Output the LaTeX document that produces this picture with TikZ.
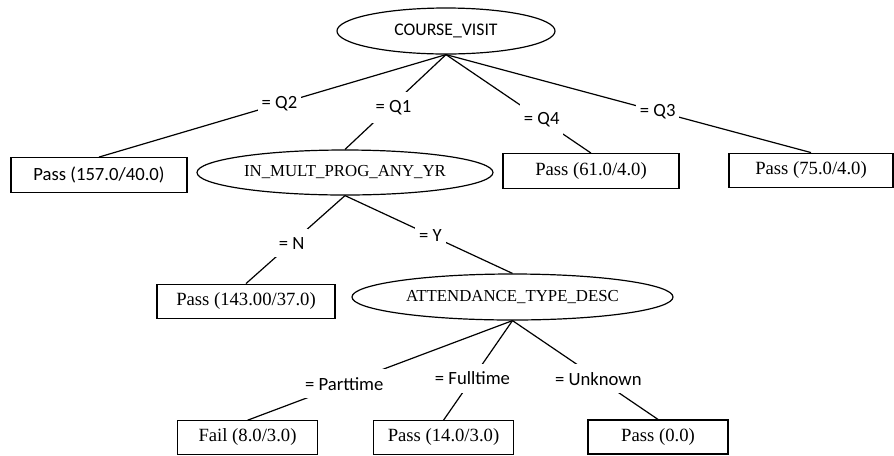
\documentclass[tikz,border=0pt]{standalone}
\usepackage{fontspec}
\setmainfont{Liberation Serif}
\newfontfamily\calibri{Carlito}
\usetikzlibrary{shapes.geometric}

\tikzset{
  attr/.style={draw, ellipse, inner sep=0pt, line width=0.9pt, font=\fontsize{12.6}{15}\selectfont},
  leaf/.style={draw, rectangle, inner sep=0pt, line width=0.9pt, minimum height=26pt, font=\fontsize{14}{16}\selectfont},
  cond/.style={fill=white, inner xsep=3pt, inner ysep=6pt, font=\calibri\fontsize{14}{16}\selectfont},
  branch/.style={line width=0.9pt},
}

\begin{document}
\begin{tikzpicture}[x=0.75pt, y=-0.75pt]
  \useasboundingbox (0,0) rectangle (894,455);

  %% attribute tests (ellipses)
  \node[attr, minimum width=163.5pt, minimum height=34.5pt, font=\calibri\fontsize{13.3}{15}\selectfont] (visit) at (446,31) {COURSE\_VISIT};
  \node[attr, minimum width=222pt, minimum height=33.75pt] (multprog) at (345,172.5) {IN\_MULT\_PROG\_ANY\_YR};
  \node[attr, minimum width=240.75pt, minimum height=34.5pt] (attend) at (512.5,297) {ATTENDANCE\_TYPE\_DESC};

  %% leaves (boxes)
  \node[leaf, minimum width=132pt, font=\calibri\fontsize{14}{16}\selectfont] (q2pass) at (99,175) {Pass (157.0/40.0)};
  \node[leaf, minimum width=132pt] (q4pass) at (591,171) {Pass (61.0/4.0)};
  \node[leaf, minimum width=123pt] (q3pass) at (811,170.5) {Pass (75.0/4.0)};
  \node[leaf, minimum width=133.5pt] (npass) at (246,301.5) {Pass (143.00/37.0)};
  \node[leaf, minimum width=104.5pt, minimum height=25pt] (partfail) at (247.5,437.5) {Fail (8.0/3.0)};
  \node[leaf, minimum width=104.5pt, minimum height=25pt] (fullpass) at (443.5,437.5) {Pass (14.0/3.0)};
  \node[leaf, minimum width=105pt, minimum height=25.5pt] (unkpass) at (658,437) {Pass (0.0)};

  %% branches, label sits on the line and hides it
  \draw[branch] (visit.south) -- node[cond, pos=.48] {= Q2} (q2pass.north);
  \draw[branch] (visit.south) -- node[cond, pos=.56, xshift=3pt] {= Q1} (multprog.north);
  \draw[branch] (visit.south) -- node[cond, pos=.66] {= Q4} (q4pass.north);
  \draw[branch] (visit.south) -- node[cond, pos=.58] {= Q3} (q3pass.north);

  \draw[branch] (multprog.south) -- node[cond, pos=.54] {= N} (npass.north);
  \draw[branch] (multprog.south) -- node[cond, pos=.51] {= Y} (attend.north);

  \draw[branch] (attend.south) -- node[cond, pos=.635] {= Parttime} (partfail.north);
  \draw[branch] (attend.south) -- node[cond, pos=.58] {= Fulltime} (fullpass.north);
  \draw[branch] (attend.south) -- node[cond, pos=.59] {= Unknown} (unkpass.north);
\end{tikzpicture}
\end{document}
